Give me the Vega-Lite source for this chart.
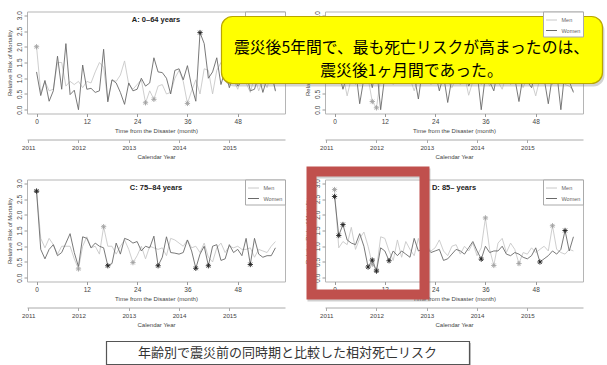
{
  "$schema": "https://vega.github.io/schema/vega-lite/v6.json",
  "background": "white",
  "autosize": {"type": "pad"},
  "padding": {"left": 6, "top": 9.5, "right": 0, "bottom": 0},
  "columns": 2,
  "spacing": {"row": 66, "column": 40},
  "bounds": "flush",
  "resolve": {
    "scale": {"x": "independent", "y": "independent", "stroke": "independent", "color": "independent"},
    "legend": {"stroke": "independent"}
  },
  "datasets": {
    "A": [
      {"month":0,"Men":2.0,"Women":1.2,"sig":"Men"},{"month":1,"Men":0.55,"Women":0.45},{"month":2,"Men":0.9,"Women":0.93},
      {"month":3,"Men":0.6,"Women":0.27},{"month":4,"Men":0.65,"Women":0.6},{"month":5,"Men":1.5,"Women":1.7},
      {"month":6,"Men":1.5,"Women":0.65},{"month":7,"Men":0.75,"Women":2.1},{"month":8,"Men":0.9,"Women":0.48},
      {"month":9,"Men":0.8,"Women":0.62},{"month":10,"Men":0.9,"Women":0.0},{"month":11,"Men":0.7,"Women":1.42},
      {"month":12,"Men":0.9,"Women":0.65},{"month":13,"Men":0.85,"Women":0.68},{"month":14,"Men":1.2,"Women":0.55},
      {"month":15,"Men":1.5,"Women":0.6},{"month":16,"Men":1.35,"Women":1.92},{"month":17,"Men":0.3,"Women":0.25},
      {"month":18,"Men":0.95,"Women":0.95},{"month":19,"Men":0.9,"Women":0.85},{"month":20,"Men":1.1,"Women":0.55},
      {"month":21,"Men":1.55,"Women":0.17},{"month":22,"Men":0.8,"Women":0.85},{"month":23,"Men":0.65,"Women":0.6},
      {"month":24,"Men":0.8,"Women":0.65},{"month":25,"Men":0.95,"Women":1.0},{"month":26,"Men":0.22,"Women":0.75,"sig":"Men"},
      {"month":27,"Men":0.6,"Women":0.85},{"month":28,"Men":0.33,"Women":1.65,"sig":"Men"},{"month":29,"Men":0.75,"Women":1.2},
      {"month":30,"Men":0.8,"Women":1.18},{"month":31,"Men":0.5,"Women":1.0},{"month":32,"Men":0.55,"Women":0.5},
      {"month":33,"Men":1.0,"Women":1.25},{"month":34,"Men":1.25,"Women":1.3},{"month":35,"Men":0.9,"Women":0.95},
      {"month":36,"Men":0.2,"Women":1.4,"sig":"Men"},{"month":37,"Men":0.6,"Women":0.75},{"month":38,"Men":0.95,"Women":0.27},
      {"month":39,"Men":0.5,"Women":2.45,"sig":"Women"},{"month":40,"Men":1.3,"Women":2.1},{"month":41,"Men":1.25,"Women":1.0},
      {"month":42,"Men":0.5,"Women":1.2},{"month":43,"Men":1.25,"Women":1.65},{"month":44,"Men":1.5,"Women":0.8},
      {"month":45,"Men":0.9,"Women":1.25},{"month":46,"Men":0.8,"Women":0.7},{"month":47,"Men":0.95,"Women":1.1},
      {"month":48,"Men":0.65,"Women":0.75},{"month":49,"Men":1.1,"Women":0.9},{"month":50,"Men":0.85,"Women":1.2},
      {"month":51,"Men":0.55,"Women":0.6},{"month":52,"Men":1.05,"Women":0.65},{"month":53,"Men":0.6,"Women":1.1},
      {"month":54,"Men":0.95,"Women":0.55},{"month":55,"Men":0.7,"Women":1.0},{"month":56,"Men":1.15,"Women":1.2},
      {"month":57,"Men":0.58,"Women":0.6}
    ],
    "B": [
      {"month":0,"Men":1.3,"Women":1.6},{"month":1,"Men":0.9,"Women":1.2},{"month":2,"Men":1.1,"Women":0.65},
      {"month":3,"Men":0.44,"Women":1.1},{"month":4,"Men":1.0,"Women":0.9},{"month":5,"Men":0.8,"Women":1.3},
      {"month":6,"Men":1.2,"Women":0.19},{"month":7,"Men":0.9,"Women":1.0},{"month":8,"Men":1.0,"Women":1.2},
      {"month":9,"Men":0.26,"Women":0.7,"sig":"Men"},{"month":10,"Men":0.06,"Women":1.4,"sig":"Men"},{"month":11,"Men":1.0,"Women":0.0},
      {"month":12,"Men":0.9,"Women":1.1},{"month":13,"Men":1.2,"Women":0.9},{"month":14,"Men":0.8,"Women":1.3},
      {"month":15,"Men":1.0,"Women":0.85},{"month":16,"Men":1.1,"Women":1.0},{"month":17,"Men":0.85,"Women":1.2},
      {"month":18,"Men":1.0,"Women":0.9},{"month":19,"Men":0.6,"Women":1.1},{"month":20,"Men":1.0,"Women":0.34},
      {"month":21,"Men":0.9,"Women":1.3},{"month":22,"Men":1.15,"Women":0.9},{"month":23,"Men":0.8,"Women":1.0},
      {"month":24,"Men":1.0,"Women":1.2},{"month":25,"Men":0.85,"Women":0.6},{"month":26,"Men":1.2,"Women":1.1},
      {"month":27,"Men":0.9,"Women":0.23},{"month":28,"Men":0.7,"Women":1.0},{"month":29,"Men":1.0,"Women":1.2},
      {"month":30,"Men":0.8,"Women":0.9},{"month":31,"Men":1.1,"Women":1.3},{"month":32,"Men":0.46,"Women":0.75},
      {"month":33,"Men":0.9,"Women":1.0},{"month":34,"Men":1.0,"Women":1.2},{"month":35,"Men":0.8,"Women":0.0},
      {"month":36,"Men":1.1,"Women":1.1},{"month":37,"Men":0.75,"Women":0.9},{"month":38,"Men":1.0,"Women":0.6},
      {"month":39,"Men":0.9,"Women":1.3},{"month":40,"Men":0.65,"Women":1.0},{"month":41,"Men":1.1,"Women":0.9},
      {"month":42,"Men":0.8,"Women":1.2},{"month":43,"Men":0.95,"Women":1.0},{"month":44,"Men":1.0,"Women":0.26},
      {"month":45,"Men":0.7,"Women":1.1},{"month":46,"Men":1.05,"Women":0.9},{"month":47,"Men":0.9,"Women":0.7},
      {"month":48,"Men":0.44,"Women":1.2},{"month":49,"Men":1.0,"Women":0.9},{"month":50,"Men":0.85,"Women":1.0},
      {"month":51,"Men":1.1,"Women":0.19},{"month":52,"Men":0.8,"Women":1.1},{"month":53,"Men":0.95,"Women":1.2},
      {"month":54,"Men":1.0,"Women":0.0},{"month":55,"Men":0.8,"Women":1.3},{"month":56,"Men":0.75,"Women":0.9},
      {"month":57,"Men":0.6,"Women":0.55}
    ],
    "C": [
      {"month":0,"Men":2.75,"Women":2.75,"sig":"Both"},{"month":1,"Men":1.25,"Women":0.9},{"month":2,"Men":0.95,"Women":0.6},
      {"month":3,"Men":1.25,"Women":0.9},{"month":4,"Men":1.05,"Women":1.05},{"month":5,"Men":0.75,"Women":0.7},
      {"month":6,"Men":1.0,"Women":0.8},{"month":7,"Men":1.0,"Women":1.1},{"month":8,"Men":1.0,"Women":1.4},
      {"month":9,"Men":0.6,"Women":0.8},{"month":10,"Men":0.28,"Women":0.35,"sig":"Men"},{"month":11,"Men":1.0,"Women":1.3},
      {"month":12,"Men":1.3,"Women":1.25},{"month":13,"Men":0.95,"Women":0.95},{"month":14,"Men":1.0,"Women":1.1},
      {"month":15,"Men":0.75,"Women":1.0},{"month":16,"Men":1.62,"Women":0.95,"sig":"Men"},{"month":17,"Men":1.0,"Women":0.38,"sig":"Women"},
      {"month":18,"Men":1.0,"Women":0.45},{"month":19,"Men":0.75,"Women":1.1},{"month":20,"Men":1.0,"Women":0.75},
      {"month":21,"Men":1.2,"Women":1.25},{"month":22,"Men":0.9,"Women":1.2},{"month":23,"Men":0.48,"Women":1.1,"sig":"Men"},
      {"month":24,"Men":0.7,"Women":1.15},{"month":25,"Men":1.0,"Women":0.85},{"month":26,"Men":0.6,"Women":1.0},
      {"month":27,"Men":1.0,"Women":0.95},{"month":28,"Men":0.95,"Women":1.32},{"month":29,"Men":0.9,"Women":0.38,"sig":"Women"},
      {"month":30,"Men":0.95,"Women":0.65},{"month":31,"Men":0.7,"Women":1.3},{"month":32,"Men":1.25,"Women":0.8},
      {"month":33,"Men":1.2,"Women":0.78},{"month":34,"Men":1.1,"Women":0.75},{"month":35,"Men":1.0,"Women":0.8},
      {"month":36,"Men":1.2,"Women":1.2},{"month":37,"Men":0.95,"Women":0.85},{"month":38,"Men":1.0,"Women":0.3,"sig":"Women"},
      {"month":39,"Men":0.8,"Women":0.75},{"month":40,"Men":1.1,"Women":1.0},{"month":41,"Men":0.65,"Women":0.38,"sig":"Women"},
      {"month":42,"Men":0.5,"Women":1.0},{"month":43,"Men":0.95,"Women":1.05},{"month":44,"Men":1.1,"Women":0.55},
      {"month":45,"Men":0.8,"Women":0.6},{"month":46,"Men":1.0,"Women":1.05},{"month":47,"Men":0.95,"Women":0.8},
      {"month":48,"Men":1.0,"Women":0.9},{"month":49,"Men":0.9,"Women":0.7},{"month":50,"Men":0.9,"Women":1.25},
      {"month":51,"Men":0.95,"Women":0.42,"sig":"Women"},{"month":52,"Men":0.65,"Women":1.25},{"month":53,"Men":0.9,"Women":0.75},
      {"month":54,"Men":0.85,"Women":0.65},{"month":55,"Men":0.8,"Women":0.7},{"month":56,"Men":1.0,"Women":0.7},
      {"month":57,"Men":1.15,"Women":0.95}
    ],
    "D": [
      {"month":0,"Men":2.8,"Women":2.58,"sig":"Both"},{"month":1,"Men":0.95,"Women":1.34,"sig":"Women"},{"month":2,"Men":1.15,"Women":1.69,"sig":"Women"},
      {"month":3,"Men":1.05,"Women":1.2},{"month":4,"Men":1.6,"Women":1.1},{"month":5,"Men":0.9,"Women":1.05},
      {"month":6,"Men":1.25,"Women":1.4},{"month":7,"Men":1.45,"Women":1.0},{"month":8,"Men":1.0,"Women":0.34,"sig":"Women"},
      {"month":9,"Men":0.43,"Women":0.56,"sig":"Both"},{"month":10,"Men":0.25,"Women":0.21,"sig":"Both"},{"month":11,"Men":1.3,"Women":0.95},
      {"month":12,"Men":1.25,"Women":0.85},{"month":13,"Men":0.85,"Women":0.54,"sig":"Women"},{"month":14,"Men":0.55,"Women":0.85},
      {"month":15,"Men":1.2,"Women":0.7},{"month":16,"Men":0.65,"Women":0.85},{"month":17,"Men":1.15,"Women":0.75},
      {"month":18,"Men":0.9,"Women":0.65},{"month":19,"Men":0.7,"Women":1.25},{"month":20,"Men":1.25,"Women":0.85},
      {"month":21,"Men":0.75,"Women":0.9},{"month":22,"Men":1.0,"Women":0.95},{"month":23,"Men":0.85,"Women":0.8},
      {"month":24,"Men":0.95,"Women":0.85},{"month":25,"Men":1.2,"Women":0.9},{"month":26,"Men":0.85,"Women":0.55},
      {"month":27,"Men":0.7,"Women":0.6},{"month":28,"Men":1.0,"Women":0.75},{"month":29,"Men":1.05,"Women":0.9},
      {"month":30,"Men":0.75,"Women":0.85},{"month":31,"Men":1.0,"Women":0.75},{"month":32,"Men":0.85,"Women":0.95},
      {"month":33,"Men":1.1,"Women":1.15},{"month":34,"Men":0.7,"Women":0.85},{"month":35,"Men":0.95,"Women":0.59,"sig":"Women"},
      {"month":36,"Men":1.9,"Women":1.0,"sig":"Men"},{"month":37,"Men":0.9,"Women":0.8},{"month":38,"Men":0.39,"Women":0.85,"sig":"Men"},
      {"month":39,"Men":1.1,"Women":0.85},{"month":40,"Men":1.25,"Women":1.0},{"month":41,"Men":0.8,"Women":0.75},
      {"month":42,"Men":1.1,"Women":0.7},{"month":43,"Men":0.9,"Women":0.8},{"month":44,"Men":0.45,"Women":0.75,"sig":"Men"},
      {"month":45,"Men":0.8,"Women":0.65},{"month":46,"Men":0.75,"Women":0.6},{"month":47,"Men":0.95,"Women":0.7},
      {"month":48,"Men":0.8,"Women":0.95},{"month":49,"Men":0.9,"Women":0.5,"sig":"Women"},{"month":50,"Men":1.0,"Women":0.6},
      {"month":51,"Men":0.85,"Women":0.7},{"month":52,"Men":1.65,"Women":0.85,"sig":"Men"},{"month":53,"Men":0.9,"Women":0.75},
      {"month":54,"Men":0.8,"Women":0.9},{"month":55,"Men":0.75,"Women":1.5,"sig":"Women"},{"month":56,"Men":0.9,"Women":0.85},
      {"month":57,"Men":0.85,"Women":1.3}
    ]
  },
  "concat": [
    {
      "width": 258, "height": 102,
      "data": {"name": "A"},
      "resolve": {"axis": {"x": "independent", "y": "independent"}},
      "layer": [
        {
          "transform": [{"fold": ["Men", "Women"], "as": ["sex", "rr"]}],
          "mark": {"type": "line", "strokeWidth": 0.9},
          "encoding": {
            "x": {"field": "month", "type": "quantitative", "scale": {"domain": [-2.28, 59.28], "nice": false, "zero": false},
              "axis": {"values": [0, 12, 24, 36, 48], "title": "Time from the Disaster (month)", "domain": false, "grid": false, "tickSize": 3, "tickColor": "#999", "labelFlush": false, "labelFontSize": 6.5, "labelPadding": 2, "labelColor": "#444", "titleFontSize": 6, "titleFontWeight": "normal", "titleColor": "#444", "titlePadding": 2}},
            "y": {"field": "rr", "type": "quantitative", "scale": {"domain": [-0.12, 3.12], "nice": false, "zero": false},
              "axis": {"values": [0, 0.5, 1, 1.5, 2, 2.5, 3], "format": ".1f", "labelAngle": -90, "title": "Relative Risk of Mortality", "domain": false, "grid": false, "tickSize": 3, "tickColor": "#999", "labelFontSize": 6.5, "labelPadding": 1.5, "labelColor": "#444", "titleFontSize": 6, "titleFontWeight": "normal", "titleColor": "#444", "titlePadding": 4}},
            "stroke": {"field": "sex", "type": "nominal", "scale": {"domain": ["Men", "Women"], "range": ["#c8c8c8", "#6a6a6a"]},
              "legend": {"orient": "top-right", "offset": 0, "title": null, "strokeColor": "#aaaaaa", "fillColor": "#ffffff", "padding": 2.5, "symbolType": "stroke", "symbolSize": 120, "symbolStrokeWidth": 1, "labelFontSize": 5.5, "labelColor": "#666", "rowPadding": 0.5, "labelOffset": 4}}
          }
        },
        {
          "transform": [{"fold": ["Men", "Women"], "as": ["sex", "rr"]}, {"filter": "datum.sig === datum.sex || datum.sig === 'Both'"}],
          "mark": {"type": "point", "shape": "M-1,0L1,0M0,-1L0,1M-0.7,-0.7L0.7,0.7M-0.7,0.7L0.7,-0.7", "filled": false, "size": 28, "strokeWidth": 0.9, "opacity": 1},
          "encoding": {
            "x": {"field": "month", "type": "quantitative", "axis": null},
            "y": {"field": "rr", "type": "quantitative", "axis": null},
            "color": {"field": "sex", "type": "nominal", "scale": {"domain": ["Men", "Women"], "range": ["#a0a0a0", "#222222"]}, "legend": null}
          }
        },
        {
          "transform": [{"fold": ["Men", "Women"], "as": ["sex", "rr"]}],
          "mark": {"type": "point", "opacity": 0},
          "encoding": {
            "x": {"field": "month", "type": "quantitative",
              "axis": {"orient": "bottom", "offset": 26, "values": [-2, 10, 22, 34, 46], "labelExpr": "'' + (2011 + round((datum.value + 2) / 12))", "title": "Calendar Year", "domain": true, "domainColor": "#aaa", "grid": false, "tickSize": 3, "tickColor": "#aaa", "labelFlush": false, "labelFontSize": 6.2, "labelPadding": 2, "labelColor": "#444", "titleFontSize": 6, "titleFontWeight": "normal", "titleColor": "#444", "titlePadding": 3}},
            "y": {"field": "rr", "type": "quantitative", "axis": null}
          }
        },
        {
          "data": {"values": [{}]},
          "mark": {"type": "text", "text": "A: 0–64 years", "fontWeight": "bold", "fontSize": 7.5, "color": "#222", "baseline": "middle"},
          "encoding": {"x": {"datum": 28.5, "type": "quantitative", "axis": null}, "y": {"datum": 2.85, "type": "quantitative", "axis": null}}
        }
      ]
    },
    {
      "width": 258, "height": 102,
      "data": {"name": "B"},
      "resolve": {"axis": {"x": "independent", "y": "independent"}},
      "layer": [
        {
          "transform": [{"fold": ["Men", "Women"], "as": ["sex", "rr"]}],
          "mark": {"type": "line", "strokeWidth": 0.9},
          "encoding": {
            "x": {"field": "month", "type": "quantitative", "scale": {"domain": [-2.28, 59.28], "nice": false, "zero": false},
              "axis": {"values": [0, 12, 24, 36, 48], "title": "Time from the Disaster (month)", "domain": false, "grid": false, "tickSize": 3, "tickColor": "#999", "labelFlush": false, "labelFontSize": 6.5, "labelPadding": 2, "labelColor": "#444", "titleFontSize": 6, "titleFontWeight": "normal", "titleColor": "#444", "titlePadding": 2}},
            "y": {"field": "rr", "type": "quantitative", "scale": {"domain": [-0.12, 3.12], "nice": false, "zero": false},
              "axis": {"values": [0, 0.5, 1, 1.5, 2, 2.5, 3], "format": ".1f", "labelAngle": -90, "title": "Relative Risk of Mortality", "domain": false, "grid": false, "tickSize": 3, "tickColor": "#999", "labelFontSize": 6.5, "labelPadding": 1.5, "labelColor": "#444", "titleFontSize": 6, "titleFontWeight": "normal", "titleColor": "#444", "titlePadding": 4}},
            "stroke": {"field": "sex", "type": "nominal", "scale": {"domain": ["Men", "Women"], "range": ["#c8c8c8", "#6a6a6a"]},
              "legend": {"orient": "top-right", "offset": 0, "title": null, "strokeColor": "#aaaaaa", "fillColor": "#ffffff", "padding": 2.5, "symbolType": "stroke", "symbolSize": 120, "symbolStrokeWidth": 1, "labelFontSize": 5.5, "labelColor": "#666", "rowPadding": 0.5, "labelOffset": 4}}
          }
        },
        {
          "transform": [{"fold": ["Men", "Women"], "as": ["sex", "rr"]}, {"filter": "datum.sig === datum.sex || datum.sig === 'Both'"}],
          "mark": {"type": "point", "shape": "M-1,0L1,0M0,-1L0,1M-0.7,-0.7L0.7,0.7M-0.7,0.7L0.7,-0.7", "filled": false, "size": 28, "strokeWidth": 0.9, "opacity": 1},
          "encoding": {
            "x": {"field": "month", "type": "quantitative", "axis": null},
            "y": {"field": "rr", "type": "quantitative", "axis": null},
            "color": {"field": "sex", "type": "nominal", "scale": {"domain": ["Men", "Women"], "range": ["#a0a0a0", "#222222"]}, "legend": null}
          }
        },
        {
          "transform": [{"fold": ["Men", "Women"], "as": ["sex", "rr"]}],
          "mark": {"type": "point", "opacity": 0},
          "encoding": {
            "x": {"field": "month", "type": "quantitative",
              "axis": {"orient": "bottom", "offset": 26, "values": [-2, 10, 22, 34, 46], "labelExpr": "'' + (2011 + round((datum.value + 2) / 12))", "title": "Calendar Year", "domain": true, "domainColor": "#aaa", "grid": false, "tickSize": 3, "tickColor": "#aaa", "labelFlush": false, "labelFontSize": 6.2, "labelPadding": 2, "labelColor": "#444", "titleFontSize": 6, "titleFontWeight": "normal", "titleColor": "#444", "titlePadding": 3}},
            "y": {"field": "rr", "type": "quantitative", "axis": null}
          }
        },
        {
          "data": {"values": [{}]},
          "mark": {"type": "text", "text": "B: 65–74 years", "fontWeight": "bold", "fontSize": 7.5, "color": "#222", "baseline": "middle"},
          "encoding": {"x": {"datum": 28.5, "type": "quantitative", "axis": null}, "y": {"datum": 2.85, "type": "quantitative", "axis": null}}
        },
        {
          "data": {"values": [{}]},
          "mark": {"type": "rect", "cornerRadius": 11, "fill": "#808080", "opacity": 0.35},
          "encoding": {"x": {"datum": -26.5, "type": "quantitative", "axis": null}, "x2": {"datum": 64.4}, "y": {"datum": 2.866, "type": "quantitative", "axis": null}, "y2": {"datum": 0.738}}
        },
        {
          "data": {"values": [{}]},
          "mark": {"type": "rect", "cornerRadius": 11, "fill": "#ffff00", "stroke": "#b9a600", "strokeWidth": 1.2},
          "encoding": {"x": {"datum": -26.98, "type": "quantitative", "axis": null}, "x2": {"datum": 63.93}, "y": {"datum": 2.961, "type": "quantitative", "axis": null}, "y2": {"datum": 0.833}}
        },
        {
          "data": {"values": [{}]},
          "mark": {"type": "text", "text": ["震災後5年間で、最も死亡リスクが高まったのは、", "震災後1ヶ月間であった。"], "font": "Noto Sans CJK JP", "fontSize": 15.8, "lineHeight": 22.5, "color": "#000000", "align": "center", "baseline": "middle"},
          "encoding": {"x": {"datum": 18.36, "type": "quantitative", "axis": null}, "y": {"datum": 1.953, "type": "quantitative", "axis": null}}
        }
      ]
    },
    {
      "width": 258, "height": 102,
      "data": {"name": "C"},
      "resolve": {"axis": {"x": "independent", "y": "independent"}},
      "layer": [
        {
          "transform": [{"fold": ["Men", "Women"], "as": ["sex", "rr"]}],
          "mark": {"type": "line", "strokeWidth": 0.9},
          "encoding": {
            "x": {"field": "month", "type": "quantitative", "scale": {"domain": [-2.28, 59.28], "nice": false, "zero": false},
              "axis": {"values": [0, 12, 24, 36, 48], "title": "Time from the Disaster (month)", "domain": false, "grid": false, "tickSize": 3, "tickColor": "#999", "labelFlush": false, "labelFontSize": 6.5, "labelPadding": 2, "labelColor": "#444", "titleFontSize": 6, "titleFontWeight": "normal", "titleColor": "#444", "titlePadding": 2}},
            "y": {"field": "rr", "type": "quantitative", "scale": {"domain": [-0.12, 3.12], "nice": false, "zero": false},
              "axis": {"values": [0, 0.5, 1, 1.5, 2, 2.5, 3], "format": ".1f", "labelAngle": -90, "title": "Relative Risk of Mortality", "domain": false, "grid": false, "tickSize": 3, "tickColor": "#999", "labelFontSize": 6.5, "labelPadding": 1.5, "labelColor": "#444", "titleFontSize": 6, "titleFontWeight": "normal", "titleColor": "#444", "titlePadding": 4}},
            "stroke": {"field": "sex", "type": "nominal", "scale": {"domain": ["Men", "Women"], "range": ["#c8c8c8", "#6a6a6a"]},
              "legend": {"orient": "top-right", "offset": 0, "title": null, "strokeColor": "#aaaaaa", "fillColor": "#ffffff", "padding": 2.5, "symbolType": "stroke", "symbolSize": 120, "symbolStrokeWidth": 1, "labelFontSize": 5.5, "labelColor": "#666", "rowPadding": 0.5, "labelOffset": 4}}
          }
        },
        {
          "transform": [{"fold": ["Men", "Women"], "as": ["sex", "rr"]}, {"filter": "datum.sig === datum.sex || datum.sig === 'Both'"}],
          "mark": {"type": "point", "shape": "M-1,0L1,0M0,-1L0,1M-0.7,-0.7L0.7,0.7M-0.7,0.7L0.7,-0.7", "filled": false, "size": 28, "strokeWidth": 0.9, "opacity": 1},
          "encoding": {
            "x": {"field": "month", "type": "quantitative", "axis": null},
            "y": {"field": "rr", "type": "quantitative", "axis": null},
            "color": {"field": "sex", "type": "nominal", "scale": {"domain": ["Men", "Women"], "range": ["#a0a0a0", "#222222"]}, "legend": null}
          }
        },
        {
          "transform": [{"fold": ["Men", "Women"], "as": ["sex", "rr"]}],
          "mark": {"type": "point", "opacity": 0},
          "encoding": {
            "x": {"field": "month", "type": "quantitative",
              "axis": {"orient": "bottom", "offset": 26, "values": [-2, 10, 22, 34, 46], "labelExpr": "'' + (2011 + round((datum.value + 2) / 12))", "title": "Calendar Year", "domain": true, "domainColor": "#aaa", "grid": false, "tickSize": 3, "tickColor": "#aaa", "labelFlush": false, "labelFontSize": 6.2, "labelPadding": 2, "labelColor": "#444", "titleFontSize": 6, "titleFontWeight": "normal", "titleColor": "#444", "titlePadding": 3}},
            "y": {"field": "rr", "type": "quantitative", "axis": null}
          }
        },
        {
          "data": {"values": [{}]},
          "mark": {"type": "text", "text": "C: 75–84 years", "fontWeight": "bold", "fontSize": 7.5, "color": "#222", "baseline": "middle"},
          "encoding": {"x": {"datum": 28.5, "type": "quantitative", "axis": null}, "y": {"datum": 2.84, "type": "quantitative", "axis": null}}
        },
        {
          "data": {"values": [{}]},
          "mark": {"type": "rect", "fill": "#9a9a9a", "opacity": 0.6},
          "encoding": {"x": {"datum": 17.05, "type": "quantitative", "axis": null}, "x2": {"datum": 103.66}, "y": {"datum": -2.074, "type": "quantitative", "axis": null}, "y2": {"datum": -2.804}}
        },
        {
          "data": {"values": [{}]},
          "mark": {"type": "rect", "fill": "#ffffff", "stroke": "#555555", "strokeWidth": 1.2},
          "encoding": {"x": {"datum": 16.69, "type": "quantitative", "axis": null}, "x2": {"datum": 103.3}, "y": {"datum": -2.026, "type": "quantitative", "axis": null}, "y2": {"datum": -2.757}}
        },
        {
          "data": {"values": [{}]},
          "mark": {"type": "text", "text": "年齢別で震災前の同時期と比較した相対死亡リスク", "font": "Noto Sans CJK JP", "fontSize": 13, "color": "#333333", "align": "center", "baseline": "middle"},
          "encoding": {"x": {"datum": 59.88, "type": "quantitative", "axis": null}, "y": {"datum": -2.392, "type": "quantitative", "axis": null}}
        }
      ]
    },
    {
      "width": 258, "height": 102,
      "data": {"name": "D"},
      "resolve": {"axis": {"x": "independent", "y": "independent"}},
      "layer": [
        {
          "transform": [{"fold": ["Men", "Women"], "as": ["sex", "rr"]}],
          "mark": {"type": "line", "strokeWidth": 0.9},
          "encoding": {
            "x": {"field": "month", "type": "quantitative", "scale": {"domain": [-2.28, 59.28], "nice": false, "zero": false},
              "axis": {"values": [0, 12, 24, 36, 48], "title": "Time from the Disaster (month)", "domain": false, "grid": false, "tickSize": 3, "tickColor": "#999", "labelFlush": false, "labelFontSize": 6.5, "labelPadding": 2, "labelColor": "#444", "titleFontSize": 6, "titleFontWeight": "normal", "titleColor": "#444", "titlePadding": 2}},
            "y": {"field": "rr", "type": "quantitative", "scale": {"domain": [-0.12, 3.12], "nice": false, "zero": false},
              "axis": {"values": [0, 0.5, 1, 1.5, 2, 2.5, 3], "format": ".1f", "labelAngle": -90, "title": "Relative Risk of Mortality", "domain": false, "grid": false, "tickSize": 3, "tickColor": "#999", "labelFontSize": 6.5, "labelPadding": 1.5, "labelColor": "#444", "titleFontSize": 6, "titleFontWeight": "normal", "titleColor": "#444", "titlePadding": 4}},
            "stroke": {"field": "sex", "type": "nominal", "scale": {"domain": ["Men", "Women"], "range": ["#c8c8c8", "#6a6a6a"]},
              "legend": {"orient": "top-right", "offset": 0, "title": null, "strokeColor": "#aaaaaa", "fillColor": "#ffffff", "padding": 2.5, "symbolType": "stroke", "symbolSize": 120, "symbolStrokeWidth": 1, "labelFontSize": 5.5, "labelColor": "#666", "rowPadding": 0.5, "labelOffset": 4}}
          }
        },
        {
          "transform": [{"fold": ["Men", "Women"], "as": ["sex", "rr"]}, {"filter": "datum.sig === datum.sex || datum.sig === 'Both'"}],
          "mark": {"type": "point", "shape": "M-1,0L1,0M0,-1L0,1M-0.7,-0.7L0.7,0.7M-0.7,0.7L0.7,-0.7", "filled": false, "size": 28, "strokeWidth": 0.9, "opacity": 1},
          "encoding": {
            "x": {"field": "month", "type": "quantitative", "axis": null},
            "y": {"field": "rr", "type": "quantitative", "axis": null},
            "color": {"field": "sex", "type": "nominal", "scale": {"domain": ["Men", "Women"], "range": ["#a0a0a0", "#222222"]}, "legend": null}
          }
        },
        {
          "transform": [{"fold": ["Men", "Women"], "as": ["sex", "rr"]}],
          "mark": {"type": "point", "opacity": 0},
          "encoding": {
            "x": {"field": "month", "type": "quantitative",
              "axis": {"orient": "bottom", "offset": 26, "values": [-2, 10, 22, 34, 46], "labelExpr": "'' + (2011 + round((datum.value + 2) / 12))", "title": "Calendar Year", "domain": true, "domainColor": "#aaa", "grid": false, "tickSize": 3, "tickColor": "#aaa", "labelFlush": false, "labelFontSize": 6.2, "labelPadding": 2, "labelColor": "#444", "titleFontSize": 6, "titleFontWeight": "normal", "titleColor": "#444", "titlePadding": 3}},
            "y": {"field": "rr", "type": "quantitative", "axis": null}
          }
        },
        {
          "data": {"values": [{}]},
          "mark": {"type": "text", "text": "D: 85– years", "fontWeight": "bold", "fontSize": 7.5, "color": "#222", "baseline": "middle"},
          "encoding": {"x": {"datum": 28.5, "type": "quantitative", "axis": null}, "y": {"datum": 2.84, "type": "quantitative", "axis": null}}
        },
        {
          "data": {"values": [{}]},
          "mark": {"type": "rect", "fillOpacity": 0, "stroke": "#7a7a7a", "strokeOpacity": 0.35, "strokeWidth": 10},
          "encoding": {"x": {"datum": -5.26, "type": "quantitative", "axis": null}, "x2": {"datum": 21.7}, "y": {"datum": 3.311, "type": "quantitative", "axis": null}, "y2": {"datum": -0.597}}
        },
        {
          "data": {"values": [{}]},
          "mark": {"type": "rect", "fillOpacity": 0, "stroke": "#c0504d", "strokeWidth": 10},
          "encoding": {"x": {"datum": -5.5, "type": "quantitative", "axis": null}, "x2": {"datum": 21.46}, "y": {"datum": 3.374, "type": "quantitative", "axis": null}, "y2": {"datum": -0.533}}
        }
      ]
    }
  ],
  "config": {
    "font": "Liberation Sans",
    "view": {"stroke": "#b5b5b5", "strokeWidth": 1}
  }
}
